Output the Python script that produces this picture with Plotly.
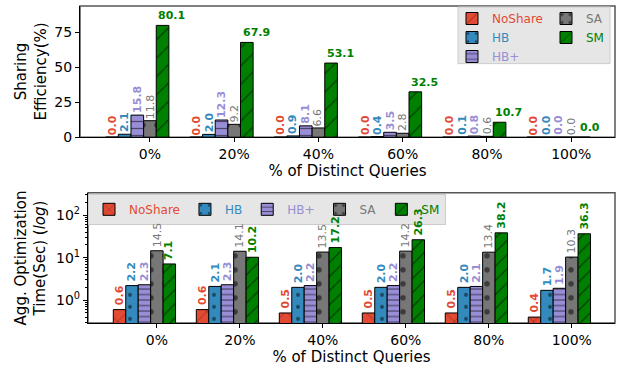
import math
import plotly.graph_objects as go

# ---- data -------------------------------------------------------------
categories = ["0%", "20%", "40%", "60%", "80%", "100%"]
series = ["NoShare", "HB", "HB+", "SA", "SM"]

# Sharing efficiency (%)
noshare_eff = [0.0, 0.0, 0.0, 0.0, 0.0, 0.0]
hb_eff = [2.1, 2.0, 0.9, 0.4, 0.1, 0.0]
hbplus_eff = [15.8, 12.3, 8.1, 3.5, 0.8, 0.0]
sa_eff = [11.8, 9.2, 6.6, 2.8, 0.6, 0.0]
sm_eff = [80.1, 67.9, 53.1, 32.5, 10.7, 0.0]

# Aggregate optimization time (sec)
noshare_time = [0.6, 0.6, 0.5, 0.5, 0.5, 0.4]
hb_time = [2.2, 2.1, 2.0, 2.0, 2.0, 1.7]
hbplus_time = [2.3, 2.3, 2.2, 2.2, 2.1, 1.9]
sa_time = [14.5, 14.1, 13.5, 14.2, 13.4, 10.3]
sm_time = [7.1, 10.2, 17.2, 26.3, 38.2, 36.3]

# ---- styling ----------------------------------------------------------
colors = {"NoShare": "#E24A33", "HB": "#348ABD", "HB+": "#988ED5",
          "SA": "#777777", "SM": "#008000"}
patterns_top = {
    "NoShare": dict(shape="/", size=13, solidity=0.1),
    "HB": dict(shape=".", size=12, solidity=0.08),
    "HB+": dict(shape="-", size=7, solidity=0.18),
    "SA": dict(shape=".", size=14, solidity=0.12),
    "SM": dict(shape="/", size=13, solidity=0.1),
}
patterns_bot = {
    "NoShare": dict(shape="x", size=14, solidity=0.08),
    "HB": dict(shape=".", size=12, solidity=0.08),
    "HB+": dict(shape="-", size=5.5, solidity=0.22),
    "SA": dict(shape=".", size=14, solidity=0.12),
    "SM": dict(shape="/", size=10, solidity=0.13),
}
label_bold = {"NoShare": True, "HB": True, "HB+": True, "SA": False, "SM": True}

FONT = "DejaVu Sans"
W = 0.15                      # bar width in category units
OFFSETS = [(k - 3) * W for k in range(5)]   # SA centred on the tick

top_vals = dict(zip(series, [noshare_eff, hb_eff, hbplus_eff, sa_eff, sm_eff]))
bot_vals = dict(zip(series, [noshare_time, hb_time, hbplus_time, sa_time, sm_time]))

fig = go.Figure()
annotations = []

top_legend_of = {"NoShare": "legend", "HB": "legend", "HB+": "legend",
                 "SA": "legend3", "SM": "legend3"}

for k, name in enumerate(series):
    c = colors[name]
    legend_name = f'<span style="color:{c}">{name}</span>'
    # upper panel
    fig.add_trace(go.Bar(
        x=categories, y=top_vals[name], name=legend_name,
        offset=OFFSETS[k] - W / 2, width=W,
        marker=dict(color=c, line=dict(color="black", width=1),
                    pattern=dict(fgcolor="black", fillmode="overlay",
                                 **patterns_top[name])),
        xaxis="x", yaxis="y", legend=top_legend_of[name],
    ))
    # lower panel
    fig.add_trace(go.Bar(
        x=categories, y=bot_vals[name], name=legend_name,
        offset=OFFSETS[k] - W / 2, width=W,
        marker=dict(color=c, line=dict(color="black", width=1),
                    pattern=dict(fgcolor="black", fillmode="overlay",
                                 **patterns_bot[name])),
        xaxis="x2", yaxis="y2", legend="legend2",
    ))

    weight = "bold" if label_bold[name] else "normal"
    for i, v in enumerate(top_vals[name]):
        if name == "SM":
            annotations.append(dict(
                x=i + OFFSETS[k] - W / 2, y=v, xref="x", yref="y",
                text=f"{v:.1f}", showarrow=False, xanchor="left", yanchor="bottom",
                yshift=1, font=dict(family=FONT, size=11, color=c, weight=weight)))
        else:
            annotations.append(dict(
                x=i + OFFSETS[k], y=v, xref="x", yref="y", textangle=-90,
                text=f"{v:.1f}", showarrow=False, xanchor="center", yanchor="bottom",
                yshift=0, font=dict(family=FONT, size=11, color=c, weight=weight)))
    for i, v in enumerate(bot_vals[name]):
        annotations.append(dict(
            x=i + OFFSETS[k], y=math.log10(v), xref="x2", yref="y2", textangle=-90,
            text=f"{v:.1f}", showarrow=False, xanchor="center", yanchor="bottom",
            yshift=2, font=dict(family=FONT, size=11, color=c, weight=weight)))

# ---- layout -------------------------------------------------------------
ML, MR, MT, MB = 80, 12, 4, 51
PW, PH = 627 - ML - MR, 374 - MT - MB


def px_x(p):
    return (p - ML) / PW


def px_y(p):
    return (374 - MB - p) / PH


# y-axis titles
annotations.append(dict(
    x=px_x(31), y=px_y(70), xref="paper", yref="paper", textangle=-90,
    text="Sharing<br>Efficiency(%)", showarrow=False, xanchor="center", yanchor="middle",
    font=dict(family=FONT, size=15, color="black")))
annotations.append(dict(
    x=px_x(31), y=px_y(258), xref="paper", yref="paper", textangle=-90,
    text="Agg. Optimization<br>Time(Sec) (<i>log</i>)", showarrow=False,
    xanchor="center", yanchor="middle",
    font=dict(family=FONT, size=15, color="black")))

xrange_ = [-0.83, 5.52]
axis_common = dict(showgrid=False, zeroline=False, showline=True, linecolor="black",
                   linewidth=1.2, ticks="outside", ticklen=4, tickwidth=1,
                   tickcolor="black", tickfont=dict(family=FONT, size=14, color="black"))

minor_vals = [m * 10 ** e for e in range(-1, 3) for m in range(2, 10)]

fig.update_layout(
    width=627, height=374,
    margin=dict(l=ML, r=MR, t=MT, b=MB),
    paper_bgcolor="white", plot_bgcolor="white",
    barmode="overlay",
    font=dict(family=FONT, color="black"),
    xaxis=dict(domain=[0, 1], anchor="y", type="category", range=xrange_,
               title=dict(text="% of Distinct Queries", standoff=0,
                          font=dict(family=FONT, size=15)), **axis_common),
    yaxis=dict(domain=[px_y(136), 1], anchor="x", range=[0, 94],
               tickvals=[0, 25, 50, 75], **axis_common),
    xaxis2=dict(domain=[px_x(88), 1], anchor="y2", type="category", range=xrange_,
                title=dict(text="% of Distinct Queries", standoff=4,
                           font=dict(family=FONT, size=15)), **axis_common),
    yaxis2=dict(domain=[0, px_y(192)], anchor="x2", type="log", range=[-0.537, 2.523],
                tickvals=[1, 10, 100],
                ticktext=["10<sup>0</sup>", "10<sup>1</sup>", "10<sup>2</sup>"],
                minor=dict(ticks="outside", ticklen=2, tickcolor="black",
                           tickvals=minor_vals, showgrid=False),
                **axis_common),
    annotations=annotations,
    legend=dict(x=px_x(452), y=px_y(2), xanchor="left", yanchor="top",
                orientation="v", bgcolor="rgba(0,0,0,0)", borderwidth=0,
                font=dict(family=FONT, size=12), tracegroupgap=0),
    legend3=dict(x=px_x(546), y=px_y(2), xanchor="left", yanchor="top",
                 orientation="v", bgcolor="rgba(0,0,0,0)", borderwidth=0,
                 font=dict(family=FONT, size=12), tracegroupgap=0),
    legend2=dict(x=px_x(88), y=px_y(193), xanchor="left", yanchor="top",
                 orientation="h", bgcolor="rgba(229,229,229,0.95)",
                 bordercolor="#cccccc", borderwidth=1,
                 font=dict(family=FONT, size=12)),
    shapes=[
        # frame around each panel (top/right sides lighter)
        dict(type="rect", xref="x domain", yref="y domain", x0=0, x1=1, y0=0, y1=1,
             line=dict(color="#555555", width=1.5), layer="below"),
        dict(type="rect", xref="x2 domain", yref="y2 domain", x0=0, x1=1, y0=0, y1=1,
             line=dict(color="#555555", width=1.5), layer="below"),
        # background box for the two-column legend of the upper panel
        dict(type="rect", xref="paper", yref="paper",
             x0=px_x(458), x1=px_x(610), y0=px_y(62), y1=px_y(5),
             fillcolor="rgba(229,229,229,0.95)", line=dict(color="#cccccc", width=1),
             layer="above"),
    ],
)

fig.write_html("out.html")
